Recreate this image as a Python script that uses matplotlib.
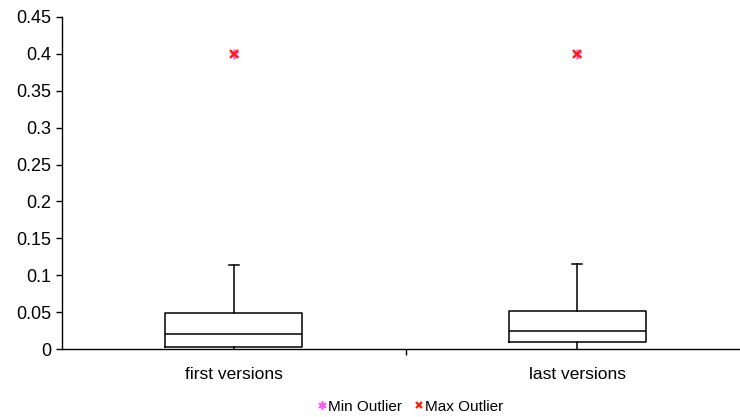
import matplotlib.pyplot as plt
from matplotlib.lines import Line2D

plt.rcParams['font.family'] = ['Liberation Sans', 'DejaVu Sans']

# box plot stats
categories = ['first versions', 'last versions']
whisker_lo = [0.0, 0.0]
q1 = [0.0027, 0.0095]
median = [0.0199, 0.0248]
q3 = [0.0484, 0.0515]
whisker_hi = [0.1134, 0.1152]
min_outlier = [0.4, 0.4]
max_outlier = [0.4, 0.4]
yticks = [0, 0.05, 0.1, 0.15, 0.2, 0.25, 0.3, 0.35, 0.4, 0.45]
ytick_labels = ['0', '0.05', '0.1', '0.15', '0.2', '0.25', '0.3', '0.35', '0.4', '0.45']

fig = plt.figure(figsize=(7.4, 4.17), dpi=100)
ax = fig.add_axes([62 / 740, 1 - 349 / 417, 687 / 740, 332 / 417])

pos = [1, 2]
stats = []
for i in range(len(categories)):
    stats.append({'whislo': whisker_lo[i], 'q1': q1[i], 'med': median[i],
                  'q3': q3[i], 'whishi': whisker_hi[i], 'fliers': []})

lw = 1.1
bp = ax.bxp(stats, positions=pos, widths=0.4, capwidths=0.03, showfliers=False,
            boxprops=dict(color='black', linewidth=lw),
            medianprops=dict(color='black', linewidth=lw),
            whiskerprops=dict(color='black', linewidth=lw),
            capprops=dict(color='black', linewidth=lw))
# lower caps sit on the axis, hide them
for cap in bp['caps'][0::2]:
    cap.set_visible(False)

pink = '#ff55ff'
red = '#ff2200'
ax.plot(pos, min_outlier, linestyle='none', marker=(6, 2, 0), markersize=7,
        color=pink, markeredgewidth=1.2, clip_on=False)
ax.plot(pos, max_outlier, linestyle='none', marker='x', markersize=6,
        color=red, markeredgewidth=1.6, clip_on=False)

ax.set_xlim(0.5, 2.5)
ax.set_ylim(0, 0.45)
ax.set_yticks(yticks)
ax.set_yticklabels(ytick_labels, fontsize=13)
ax.set_xticks(pos)
ax.set_xticklabels(categories, fontsize=12.5)
ax.set_xticks([1.5], minor=True)
ax.tick_params(axis='x', which='major', length=0, pad=13)
ax.tick_params(axis='x', which='minor', length=4, direction='out', width=1)
ax.tick_params(axis='y', length=4, direction='out', width=1, pad=4)

for s in ['top', 'right']:
    ax.spines[s].set_visible(False)
for s in ['left', 'bottom']:
    ax.spines[s].set_linewidth(1)
    ax.spines[s].set_color('black')

handles = [
    Line2D([], [], linestyle='none', marker=(6, 2, 0), markersize=6,
           color=pink, markeredgewidth=1.2),
    Line2D([], [], linestyle='none', marker='x', markersize=5,
           color=red, markeredgewidth=1.6),
]
fig.legend(handles, ['Min Outlier', 'Max Outlier'], loc='lower center',
           bbox_to_anchor=(0.555, -0.025), ncol=2, frameon=False, fontsize=11,
           handlelength=0.6, handletextpad=0.1, columnspacing=0.8)

fig.savefig('out.png', dpi=100)
